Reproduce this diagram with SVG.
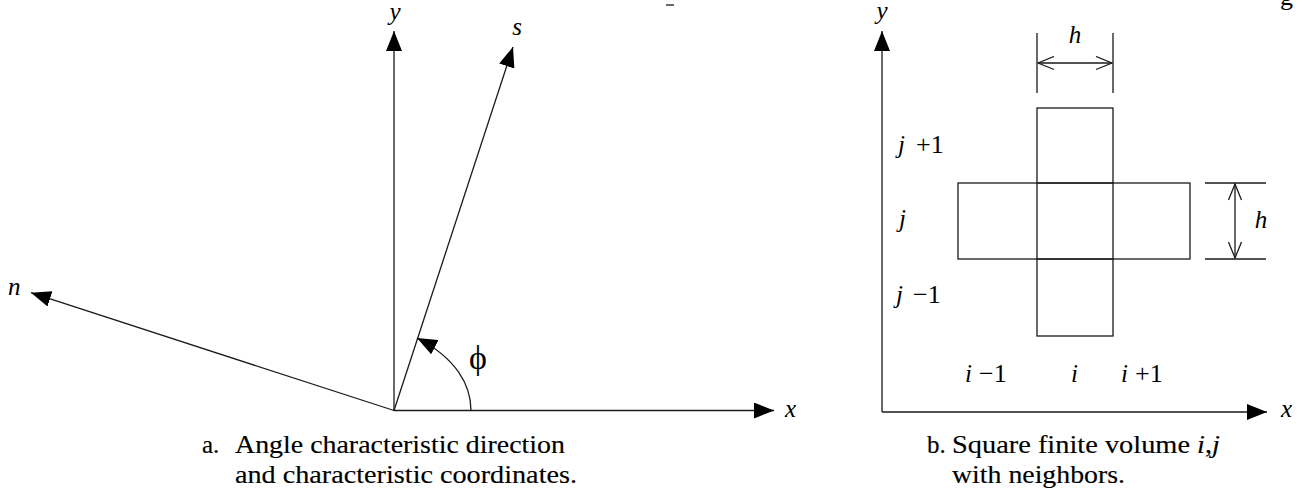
<svg xmlns="http://www.w3.org/2000/svg" width="1302" height="497" viewBox="0 0 1302 497">
<style>
.ln{stroke:#1a1a1a;stroke-width:1.3;fill:none}
.ax{stroke:#1a1a1a;stroke-width:1.3;fill:none;marker-end:url(#fa)}
.dm{stroke:#1a1a1a;stroke-width:1.3;fill:none;marker-start:url(#oa);marker-end:url(#oa)}
.it{font-family:"Liberation Serif","Times New Roman",serif;font-style:italic;font-size:25px;fill:#000}
.rm{font-family:"Liberation Serif","Times New Roman",serif;font-size:26px;fill:#000}
.phi{font-family:"Liberation Serif","Times New Roman",serif;font-size:34px;fill:#000}
.cap{font-family:"Liberation Serif","Times New Roman",serif;font-size:25px;fill:#000;stroke:#000;stroke-width:0.15}
</style>
<defs>
<marker id="fa" viewBox="0 0 20 16" markerWidth="20" markerHeight="16" refX="20" refY="8" orient="auto" markerUnits="userSpaceOnUse">
<path d="M0,0 L20,8 L0,16 Z" fill="#000"/>
</marker>
<marker id="oa" viewBox="-1 -1 18 15" markerWidth="18" markerHeight="15" refX="16" refY="6.5" orient="auto-start-reverse" markerUnits="userSpaceOnUse">
<path d="M0,0 L16,6.5 L0,13" fill="none" stroke="#1a1a1a" stroke-width="1.3"/>
</marker>
</defs>
<rect width="1302" height="497" fill="#fff"/>

<g id="figA">
<g id="connectors-a">
<line class="ax" x1="394" y1="410.5" x2="394" y2="31"/>
<line class="ax" x1="394" y1="410.5" x2="513" y2="47"/>
<line class="ax" x1="394" y1="410.5" x2="31" y2="292.7"/>
<line class="ax" x1="394" y1="410.5" x2="774" y2="410.5"/>
<path class="ax" d="M471,410.5 C471,385 456,358 417,338"/>
</g>
<g id="labels-a">
<text class="it" x="395" y="20" text-anchor="middle">y</text>
<text class="it" x="517" y="35" text-anchor="middle">s</text>
<text class="it" x="8" y="295">n</text>
<text class="it" x="785" y="417">x</text>
<text class="phi" x="478" y="369" text-anchor="middle">ϕ</text>
</g>
<g id="caption-a">
<text class="cap" x="202" y="453">a.</text>
<text class="cap" x="235" y="453" textLength="330" lengthAdjust="spacingAndGlyphs">Angle characteristic direction</text>
<text class="cap" x="235" y="483" textLength="342" lengthAdjust="spacingAndGlyphs">and characteristic coordinates.</text>
</g>
</g>

<g id="figB">
<g id="connectors-b">
<line class="ax" x1="882" y1="412" x2="882" y2="31"/>
<line class="ax" x1="882" y1="412" x2="1267" y2="412"/>
</g>
<g id="cell-top"><rect class="ln" x="1037" y="108" width="76" height="75"/></g>
<g id="cell-middle"><rect class="ln" x="958" y="183" width="232" height="76"/>
<line class="ln" x1="1037" y1="183" x2="1037" y2="259"/>
<line class="ln" x1="1113" y1="183" x2="1113" y2="259"/></g>
<g id="cell-bottom"><rect class="ln" x="1037" y="259" width="76" height="77"/></g>
<g id="dim-top">
<line class="ln" x1="1037" y1="33" x2="1037" y2="93"/>
<line class="ln" x1="1113" y1="33" x2="1113" y2="93"/>
<line class="dm" x1="1038" y1="63" x2="1112" y2="63"/>
<text class="it" x="1075" y="43" text-anchor="middle">h</text>
</g>
<g id="dim-right">
<line class="ln" x1="1205" y1="183" x2="1266" y2="183"/>
<line class="ln" x1="1205" y1="259" x2="1266" y2="259"/>
<line class="dm" x1="1235" y1="184" x2="1235" y2="258"/>
<text class="it" x="1261" y="228" text-anchor="middle">h</text>
</g>
<g id="labels-b">
<text class="it" x="882" y="19" text-anchor="middle">y</text>
<text class="it" x="1281" y="417">x</text>
<text class="it" x="898" y="153">j<tspan class="rm" font-style="normal" x="916">+1</tspan></text>
<text class="it" x="899" y="227">j</text>
<text class="it" x="896" y="303">j<tspan class="rm" font-style="normal" x="913">−1</tspan></text>
<text class="it" x="965" y="382">i<tspan class="rm" font-style="normal" x="979">−1</tspan></text>
<text class="it" x="1071" y="382">i</text>
<text class="it" x="1121" y="382">i<tspan class="rm" font-style="normal" x="1135">+1</tspan></text>
</g>
<g id="caption-b">
<text class="cap" x="927" y="453">b.</text>
<text class="cap" x="952" y="453" textLength="268" lengthAdjust="spacingAndGlyphs">Square finite volume <tspan font-style="italic">i</tspan>,<tspan font-style="italic">j</tspan></text>
<text class="cap" x="952" y="483" textLength="173" lengthAdjust="spacingAndGlyphs">with neighbors.</text>
</g>
</g>

<g id="marks">
<line class="ln" x1="666" y1="5" x2="674" y2="5"/>
<text class="rm" x="1280" y="5">g</text>
</g>
</svg>
